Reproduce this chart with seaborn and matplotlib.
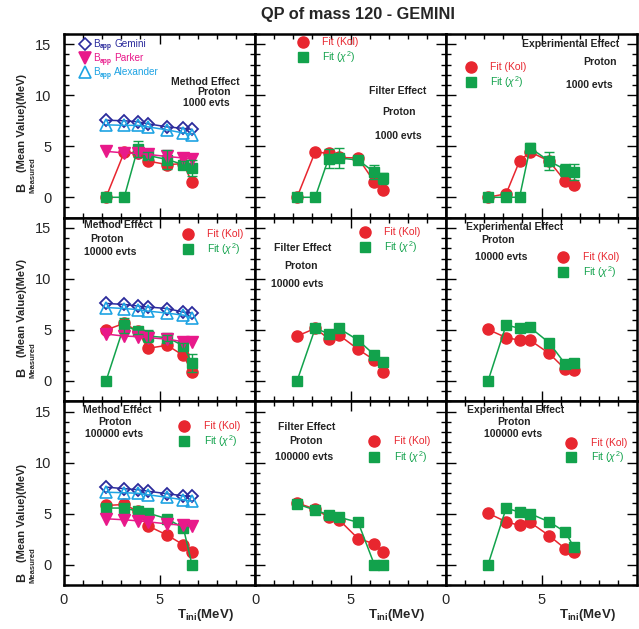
import numpy as np
import pandas as pd
import matplotlib
matplotlib.use("Agg")
import matplotlib.pyplot as plt
from matplotlib.ticker import MultipleLocator
import seaborn as sns

# ---------------- data ----------------
T_INI = [2.2, 3.15, 3.85, 4.4, 5.4, 6.25, 6.7]

# apparent binding (model) curves, one set per statistics row
gemini_1k = [7.55, 7.5, 7.4, 7.2, 6.9, 6.75, 6.65]
parker_1k = [4.5, 4.35, 4.3, 4.2, 4.0, 3.85, 3.75]
alexander_1k = [7.1, 7.05, 7.05, 6.9, 6.6, 6.3, 6.15]

gemini_10k = [7.6, 7.5, 7.35, 7.25, 7.1, 6.75, 6.65]
parker_10k = [4.6, 4.4, 4.35, 4.25, 4.1, 3.85, 3.8]
alexander_10k = [7.2, 7.1, 7.0, 6.85, 6.65, 6.45, 6.2]

gemini_100k = [7.6, 7.45, 7.35, 7.2, 6.95, 6.75, 6.7]
parker_100k = [4.5, 4.4, 4.3, 4.2, 4.0, 3.85, 3.75]
alexander_100k = [7.1, 7.05, 7.0, 6.85, 6.6, 6.35, 6.2]

# fitted values: Kolmogorov and chi-square
kol_method_1k = [0, 4.4, 4.35, 3.55, 3.2, 3.3, 1.45]
chi2_method_1k = [0, 0, 4.7, 4.1, 3.7, 3.2, 2.9]
chi2err_method_1k = [0, 0, 0.8, 0.3, 0.9, 0.4, 0.8]

kol_filter_1k = [0, 4.45, 4.3, 3.9, 3.85, 1.5, 0.75]
chi2_filter_1k = [0, 0, 3.8, 3.85, 3.65, 2.45, 1.85]
chi2err_filter_1k = [0, 0, 0.9, 1.0, 0.3, 0.7, 0.5]

kol_exp_1k = [0, 0.35, 3.55, 4.45, 3.55, 1.55, 1.2]
chi2_exp_1k = [0, 0, 0, 4.85, 3.55, 2.7, 2.5]
chi2err_exp_1k = [0, 0, 0, 0.5, 0.9, 0.6, 0.8]

kol_method_10k = [5.0, 5.65, 4.9, 3.2, 3.5, 2.5, 0.9]
chi2_method_10k = [0, 5.45, 4.9, 4.4, 4.25, 3.45, 1.75]
chi2err_method_10k = [0, 0.75, 0.3, 0.55, 0.3, 0.3, 0.9]

kol_filter_10k = [4.4, 5.15, 4.15, 4.5, 3.1, 2.05, 0.9]
chi2_filter_10k = [0, 5.15, 4.65, 5.15, 4.0, 2.55, 1.85]
chi2err_filter_10k = [0, 0, 0, 0, 0, 0.3, 0.4]

kol_exp_10k = [5.05, 4.25, 4.0, 4.0, 2.7, 1.15, 1.1]
chi2_exp_10k = [0, 5.5, 5.15, 5.25, 3.75, 1.65, 1.75]
chi2err_exp_10k = [0, 0, 0, 0, 0, 0, 0]

kol_method_100k = [5.8, 5.9, 5.25, 3.8, 2.9, 1.95, 1.25]
chi2_method_100k = [5.55, 5.55, 5.25, 5.05, 4.5, 3.6, 0]

kol_filter_100k = [6.05, 5.45, 4.65, 4.4, 2.55, 2.05, 1.25]
chi2_filter_100k = [5.95, 5.35, 4.9, 4.65, 4.15, 0, 0]

kol_exp_100k = [5.05, 4.2, 3.85, 4.15, 2.85, 1.55, 1.25]
chi2_exp_100k = [0, 5.55, 5.15, 5.0, 4.2, 3.2, 1.7]

ZEROS = [0, 0, 0, 0, 0, 0, 0]

TITLE = "QP of mass 120 - GEMINI"
EFFECTS = ["Method Effect", "Filter Effect", "Experimental Effect"]
STATS = ["1000 evts", "10000 evts", "100000 evts"]
MODEL_NAMES = ["Gemini", "Parker", "Alexander"]
Y_TICKS = [0, 5, 10, 15]
X_TICKS = [0, 5]

# ---------------- style ----------------
sns.set_style("ticks")
plt.rcParams["font.family"] = ["Liberation Sans", "DejaVu Sans"]
plt.rcParams["mathtext.fontset"] = "custom"
plt.rcParams["mathtext.rm"] = "Liberation Sans"
plt.rcParams["mathtext.it"] = "Liberation Sans:italic"
plt.rcParams["mathtext.bf"] = "Liberation Sans:bold"

RED = "#e8262f"
GREEN = "#12a24c"
DBLUE = "#2b2b9c"
MAGENTA = "#e8198a"
LBLUE = "#1ea3e3"

W, H = 639, 629
fig = plt.figure(figsize=(W / 100, H / 100), dpi=100)

X0, TOP, PW, PH = 64, 34, 191, 183.7

models = [
    (gemini_1k, parker_1k, alexander_1k),
    (gemini_10k, parker_10k, alexander_10k),
    (gemini_100k, parker_100k, alexander_100k),
]
fits = [
    [(kol_method_1k, chi2_method_1k, chi2err_method_1k),
     (kol_filter_1k, chi2_filter_1k, chi2err_filter_1k),
     (kol_exp_1k, chi2_exp_1k, chi2err_exp_1k)],
    [(kol_method_10k, chi2_method_10k, chi2err_method_10k),
     (kol_filter_10k, chi2_filter_10k, chi2err_filter_10k),
     (kol_exp_10k, chi2_exp_10k, chi2err_exp_10k)],
    [(kol_method_100k, chi2_method_100k, ZEROS),
     (kol_filter_100k, chi2_filter_100k, ZEROS),
     (kol_exp_100k, chi2_exp_100k, ZEROS)],
]

# annotation layout per panel (axes fractions):
# (effect text xy, proton xy, stats xy, legend (marker x, text x, row1 y, row2 y))
layout = {
    (0, 0): ((0.738, 0.739), (0.785, 0.684), (0.743, 0.624), None),
    (0, 1): ((0.749, 0.690), (0.754, 0.575), (0.749, 0.445), (0.251, 0.350, 0.956, 0.875)),
    (0, 2): ((0.654, 0.946), (0.806, 0.848), (0.749, 0.722), (0.131, 0.230, 0.820, 0.739)),
    (1, 0): ((0.283, 0.960), (0.225, 0.884), (0.241, 0.813), (0.649, 0.749, 0.911, 0.829)),
    (1, 1): ((0.251, 0.835), (0.241, 0.737), (0.220, 0.639), (0.576, 0.675, 0.921, 0.839)),
    (1, 2): ((0.361, 0.950), (0.272, 0.879), (0.288, 0.786), (0.613, 0.717, 0.786, 0.704)),
    (2, 0): ((0.277, 0.953), (0.267, 0.888), (0.262, 0.822), (0.628, 0.733, 0.866, 0.785)),
    (2, 1): ((0.272, 0.861), (0.267, 0.785), (0.257, 0.698), (0.623, 0.728, 0.785, 0.698)),
    (2, 2): ((0.366, 0.953), (0.356, 0.888), (0.351, 0.822), (0.654, 0.759, 0.774, 0.698)),
}

# vertical pixel position of the "B" of each row's axis title
B_POS = [187, 372, 577]

MS = 8.0
LW = 1.1


def series(ax, y, color, marker, ms=MS, hollow=False, mew=1.0):
    df = pd.DataFrame({"T": T_INI, "B": y})
    sns.lineplot(data=df, x="T", y="B", ax=ax, color=color, marker=marker,
                 markersize=ms, linewidth=LW, markeredgecolor=color,
                 markerfacecolor="none" if hollow else color,
                 markeredgewidth=mew, legend=False, sort=False)


for r in range(3):
    for c in range(3):
        left = (X0 + c * PW) / W
        bottom = 1 - (TOP + (r + 1) * PH) / H
        ax = fig.add_axes([left, bottom, PW / W, PH / H])
        kol, chi2, chi2err = fits[r][c]

        series(ax, kol, RED, "o")
        series(ax, chi2, GREEN, "s", ms=7.6)
        err = np.asarray(chi2err, dtype=float)
        m = err > 0
        if m.any():
            ax.errorbar(np.asarray(T_INI)[m], np.asarray(chi2)[m], yerr=err[m],
                        fmt="none", ecolor=GREEN, elinewidth=1.0, capsize=3.5,
                        capthick=1.0, zorder=3)

        if c == 0:
            gem, par, alex = models[r]
            series(ax, gem, DBLUE, "D", ms=6.0, hollow=True, mew=1.3)
            series(ax, par, MAGENTA, "v", ms=8.0)
            series(ax, alex, LBLUE, "^", ms=8.0, hollow=True, mew=1.2)

        ax.set_xlim(0, 10)
        ax.set_ylim(-2, 16)
        ax.xaxis.set_major_locator(MultipleLocator(5))
        ax.xaxis.set_minor_locator(MultipleLocator(1))
        ax.yaxis.set_major_locator(MultipleLocator(5))
        ax.yaxis.set_minor_locator(MultipleLocator(1))
        ax.tick_params(which="both", direction="in", top=True, right=True,
                       width=1.0, color="black")
        ax.tick_params(which="major", length=7)
        ax.tick_params(which="minor", length=3.5)
        ax.tick_params(axis="y", which="major", pad=9, labelsize=10.5)
        ax.tick_params(axis="x", which="major", pad=6, labelsize=10.5)
        for sp in ax.spines.values():
            sp.set_linewidth(1.8)
            sp.set_color("black")
        ax.set_xlabel("")
        ax.set_ylabel("")
        if c == 0:
            ax.set_yticks(Y_TICKS)
            ax.set_yticklabels([str(v) for v in Y_TICKS])
        else:
            ax.set_yticklabels([])
        if r == 2:
            ax.set_xticks([0, 5, 10])
            ax.set_xticklabels([str(X_TICKS[0]), str(X_TICKS[1]), ""])
        else:
            ax.set_xticklabels([])

        eff, pro, st, leg = layout[(r, c)]
        tk = dict(transform=ax.transAxes, ha="center", va="center",
                  fontsize=7.5, fontweight="bold", color="#222222")
        ax.text(*eff, EFFECTS[c], **tk)
        ax.text(*pro, "Proton", **tk)
        ax.text(*st, STATS[r], **tk)

        if leg is not None:
            mx, tx, y1, y2 = leg
            ax.plot([mx], [y1], "o", color=RED, ms=MS, transform=ax.transAxes,
                    clip_on=False)
            ax.plot([mx], [y2], "s", color=GREEN, ms=7.6, transform=ax.transAxes,
                    clip_on=False)
            ax.text(tx, y1, "Fit (Kol)", transform=ax.transAxes, ha="left",
                    va="center", fontsize=7.5, color=RED)
            ax.text(tx, y2, r"Fit ($\chi^{2}$)", transform=ax.transAxes,
                    ha="left", va="center", fontsize=7.5, color=GREEN)
        else:
            rows = [(0.948, "D", DBLUE, True, 6.0),
                    (0.869, "v", MAGENTA, False, 8.0),
                    (0.794, "^", LBLUE, True, 8.0)]
            for (yy, mk, col, hol, ms), name in zip(rows, MODEL_NAMES):
                ax.plot([0.11], [yy], mk, color=col, ms=ms,
                        mfc="none" if hol else col, mew=1.2,
                        transform=ax.transAxes, clip_on=False)
                # "B" with a small "app" subscript, then the model name
                ax.text(0.152, yy, "B", transform=ax.transAxes, ha="left",
                        va="center", fontsize=7.2, color=col)
                ax.text(0.187, yy - 0.018, "app", transform=ax.transAxes,
                        ha="left", va="center", fontsize=4.8, color=col,
                        fontweight="bold")
                ax.text(0.264, yy, name, transform=ax.transAxes, ha="left",
                        va="center", fontsize=7.2, color=col)

        if r == 2:
            ax.text(0.74, -0.165, r"$\mathbf{T}_{\mathbf{ini}}$(MeV)",
                    transform=ax.transAxes, ha="center", va="center",
                    fontsize=9.5, fontweight="bold")

    # y axis title for each row: "B", small "Measured" subscript, then the rest
    by = B_POS[r]
    fig.text(22 / W, 1 - by / H, "B", rotation=90, ha="center", va="center",
             fontsize=9, fontweight="bold")
    fig.text(33 / W, 1 - (by - 12) / H, "Measured", rotation=90, ha="center",
             va="center", fontsize=5.5, fontweight="bold")
    fig.text(22 / W, 1 - (by - 15) / H, "(Mean Value)(MeV)", rotation=90,
             ha="center", va="bottom", fontsize=8, fontweight="bold")

fig.text(358 / W, 1 - 14 / H, TITLE, ha="center", va="center",
         fontsize=11.8, fontweight="bold")

fig.savefig("out.png", dpi=100)
